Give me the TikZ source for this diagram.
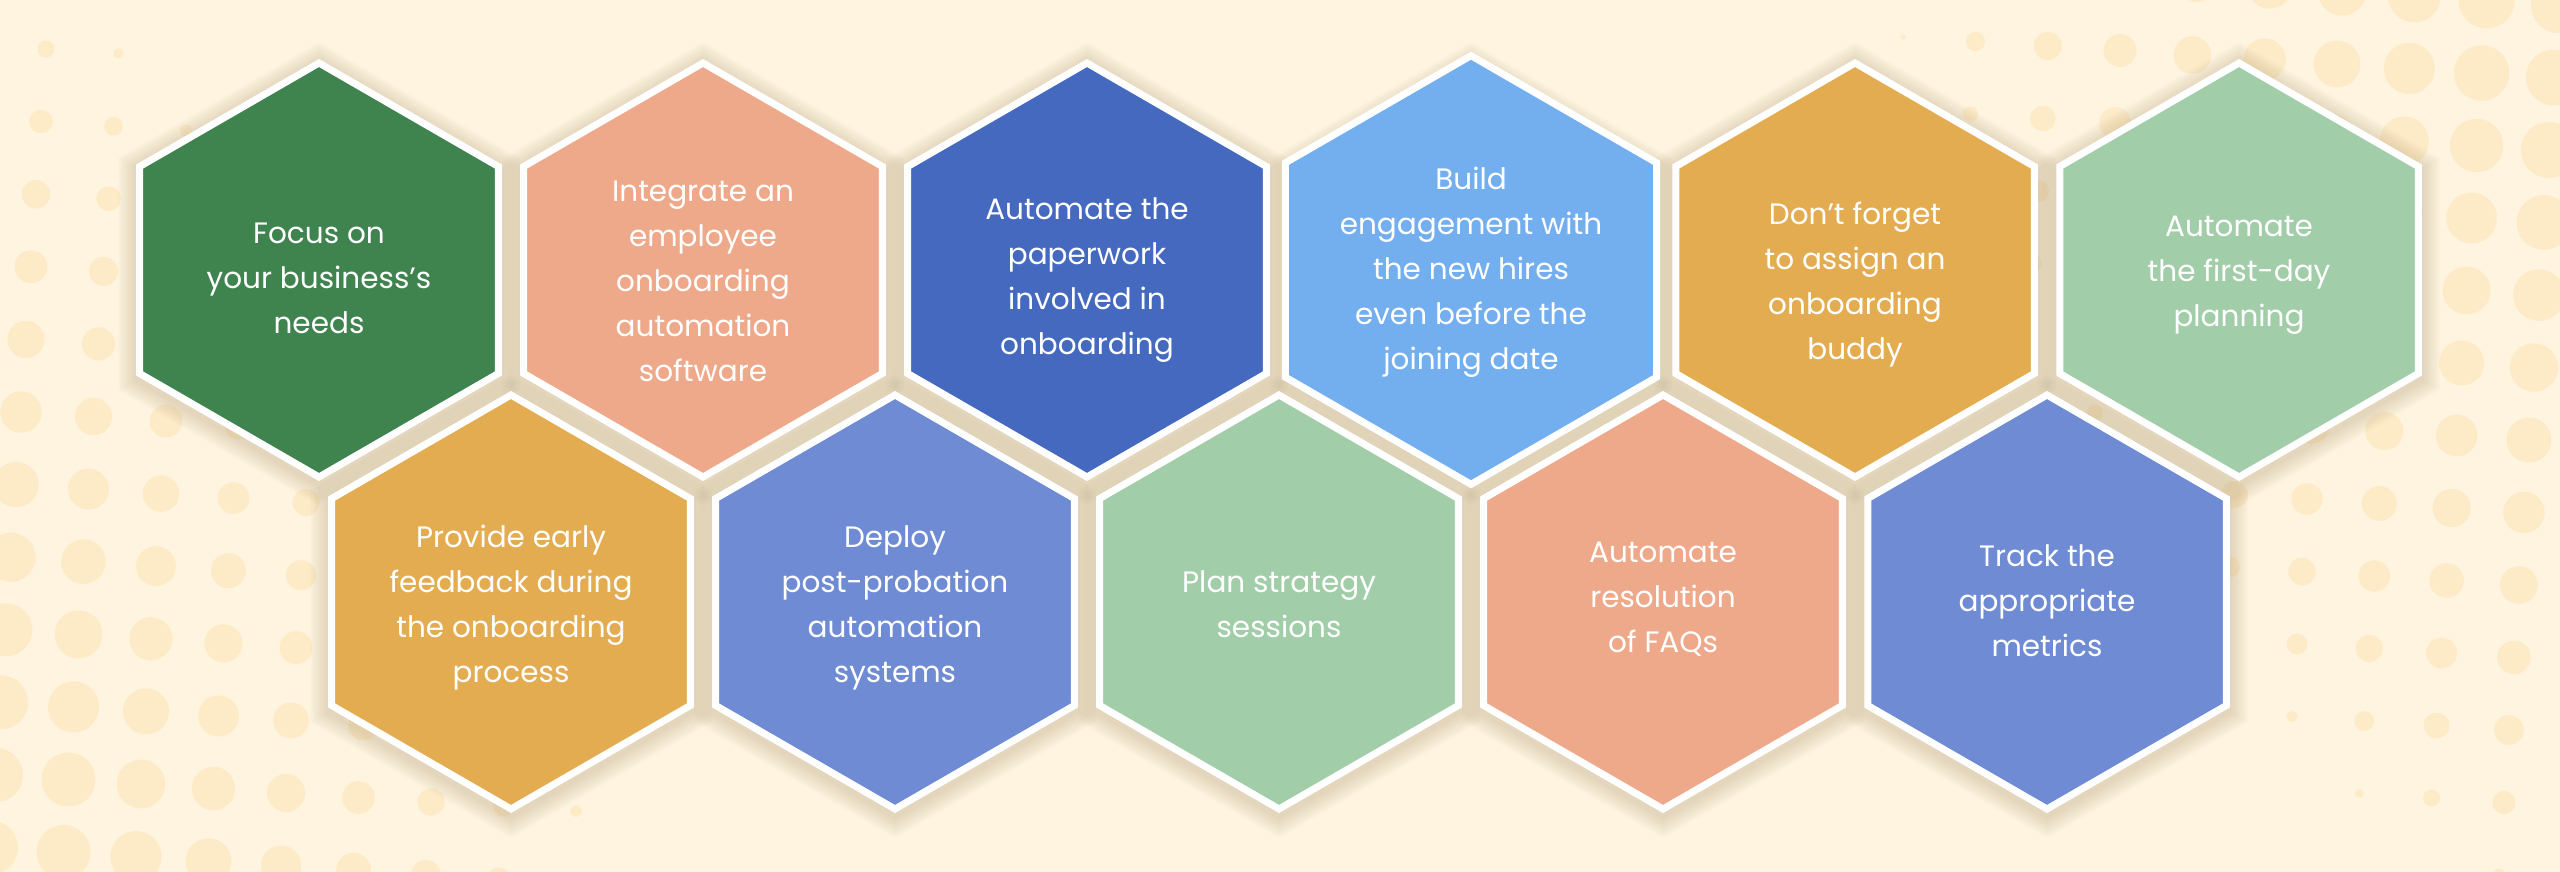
\documentclass[tikz,border=0pt]{standalone}
\usepackage{fontspec}
\setmainfont{Poppins}
\usetikzlibrary{shapes.geometric}
\definecolor{bgc}{HTML}{FEF4E0}
\definecolor{dotc}{HTML}{FDEAC6}
\definecolor{shc}{HTML}{A08A5E}
\definecolor{cgreen}{HTML}{3F834F}
\definecolor{csalmon}{HTML}{EEA88A}
\definecolor{cdblue}{HTML}{4469BF}
\definecolor{clblue}{HTML}{73AEEF}
\definecolor{corange}{HTML}{E4AC50}
\definecolor{clgreen}{HTML}{A1CDA9}
\definecolor{cperi}{HTML}{6E8BD4}
% text block whose last baseline sits #1 below the node centre
\newcommand\hxt[2]{\raisebox{#1pt}[0pt][0pt]{\begin{tabular}[b]{@{}c@{}}#2\end{tabular}}}
\tikzset{
  hexnode/.style={regular polygon, regular polygon sides=6, regular polygon rotate=30,
    minimum size=414pt, inner sep=0pt, draw=white, line width=7pt,
    text=white, font=\fontsize{29.5}{45}\selectfont},
  dotfill/.style={fill=dotc}
}
\begin{document}
\begin{tikzpicture}[x=1pt,y=-1pt]
\fill[bgc] (0,0) rectangle (2560,872);
\useasboundingbox (0,0) rectangle (2560,872);
% left dot pattern
\foreach \i in {-1,...,9}{
  \foreach \j in {-1,...,11}{
    \pgfmathsetmacro\xx{46+72.5*\i-5*\j}
    \pgfmathsetmacro\yy{49+72.6*\j+4.5*\i}
    \pgfmathsetmacro\dd{veclen((\xx+900)/100,(\yy-1200)/100)}
    \pgfmathsetmacro\rr{min(27,27-4*(\dd-10.55)-1.5*(max(0,\dd-14))^2)}
    \ifdim\rr pt>2.5pt
      \fill[dotfill] (\xx,\yy) circle[radius=\rr];
    \fi
  }
}
% right dot pattern
\foreach \i in {-7,...,4}{
  \foreach \j in {-8,...,6}{
    \pgfmathsetmacro\xx{2307+72.3*\i-5*\j}
    \pgfmathsetmacro\yy{499+72.5*\j+4.5*\i}
    \pgfmathsetmacro\dd{veclen((3200-\xx)/100,(\yy+200)/100)}
    \pgfmathsetmacro\rr{min(28,30-3.3*(\dd-7)-2.5*(max(0,\dd-11.5))^2)}
    \ifdim\rr pt>2.5pt
      \fill[dotfill] (\xx,\yy) circle[radius=\rr];
    \fi
  }
}
% soft shadows
\foreach \cx/\cy in {319/270,703/270,1087/270,1471/270,1855/270,2239/270,511/602,895/602,1279/602,1663/602,2047/602}{
  \foreach \k in {1,...,8}{
    \pgfmathsetmacro\rr{211+2.6*\k}
    \fill[shc, opacity=0.035] (\cx,\cy+4) +(30:\rr) -- +(90:\rr) -- +(150:\rr) -- +(210:\rr) -- +(270:\rr) -- +(330:\rr) -- cycle;
  }
}
% hexagons
\node[hexnode, fill=cgreen]  (h1) at (319,270)  {\hxt{-63.5}{Focus on\\your business’s\\needs}};
\node[hexnode, fill=csalmon] (h2) at (703,270)  {\hxt{-111}{Integrate an\\employee\\onboarding\\automation\\software}};
\node[hexnode, fill=cdblue]  (h3) at (1087,270) {\hxt{-84.2}{Automate the\\paperwork\\involved in\\onboarding}};
\node[hexnode, fill=clblue]  (h4) at (1471,270) {\hxt{-99}{Build\\engagement with\\the new hires\\even before the\\joining date}};
\node[hexnode, fill=corange] (h5) at (1855,270) {\hxt{-89.5}{Don’t forget\\to assign an\\onboarding\\buddy}};
\node[hexnode, fill=clgreen] (h6) at (2239,270) {\hxt{-56}{Automate\\the first-day\\planning}};
\node[hexnode, fill=corange] (h7) at (511,602)  {\hxt{-80}{Provide early\\feedback during\\the onboarding\\process}};
\node[hexnode, fill=cperi]   (h8) at (895,602)  {\hxt{-80.5}{Deploy\\post-probation\\automation\\systems}};
\node[hexnode, fill=clgreen] (h9) at (1279,602) {\hxt{-35.5}{Plan strategy\\sessions}};
\node[hexnode, fill=csalmon] (h10) at (1663,602) {\hxt{-50}{Automate\\resolution\\of FAQs}};
\node[hexnode, fill=cperi]   (h11) at (2047,602) {\hxt{-54.7}{Track the\\appropriate\\metrics}};
\end{tikzpicture}
\end{document}
